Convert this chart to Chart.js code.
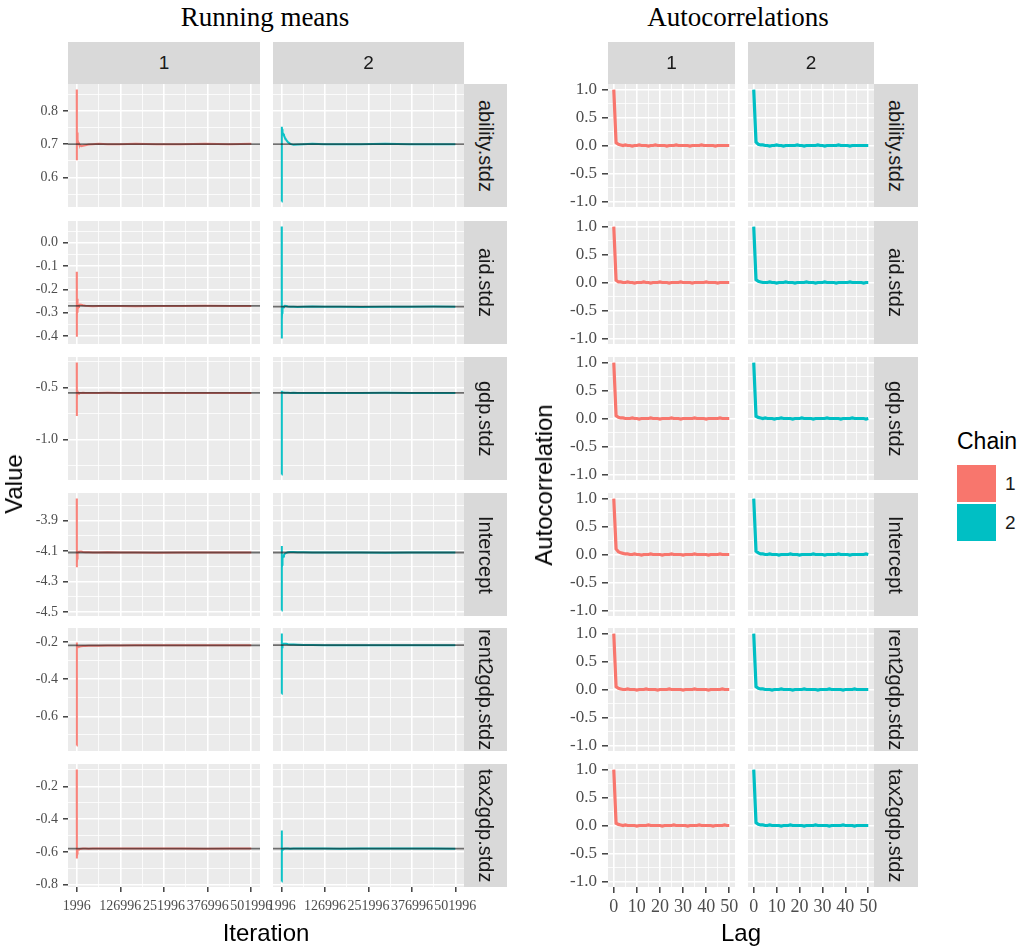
<!DOCTYPE html>
<html>
<head>
<meta charset="utf-8">
<title>Running means and autocorrelations</title>
<script src="https://cdn.jsdelivr.net/npm/chart.js@4.4.1/dist/chart.umd.min.js"></script>
<style>
  html, body { margin: 0; padding: 0; background: #fff; }
  #page { position: relative; width: 1022px; height: 946px; overflow: hidden;
          font-family: "Liberation Sans", Arial, sans-serif; }
  canvas { position: absolute; }
  .strip { position: absolute; background: #d9d9d9; color: #1a1a1a; display: flex;
           align-items: center; justify-content: center; overflow: hidden; white-space: nowrap; }
  .strip.top { font-size: 19px; }
  .strip.side span { writing-mode: vertical-rl; font-size: 20px; line-height: 1; }
  .txt { position: absolute; white-space: nowrap; line-height: 1; transform: translate(-50%, -50%); }
  .title { font-family: "Liberation Serif", "Times New Roman", serif; font-size: 27px; color: #000; }
  .axis-title { font-size: 24px; color: #000; }
  .rot { transform: translate(-50%, -50%) rotate(-90deg); }
  .key { position: absolute; width: 39px; height: 37px; }
  .legend-label { position: absolute; font-size: 19px; color: #1a1a1a; line-height: 1; }
</style>
</head>
<body>
<div id="page"></div>
<script>
// ---- data ---------------------------------------------------------------
const PARAMS = ['ability.stdz', 'aid.stdz', 'gdp.stdz', 'Intercept', 'rent2gdp.stdz', 'tax2gdp.stdz'];
const CHAINS = ['1', '2'];
const CHAIN_COLORS = ['#F8766D', '#00BFC4'];

// iterations at which the running mean is recorded
const ITERATION = [1996, 2200, 2400, 2700, 3100, 3600, 4300, 5200, 6500, 8500,
                   11000, 15000, 20000, 27000, 36000, 48000, 65000, 90000, 125000, 170000,
                   230000, 300000, 370000, 440000, 501996];
const ITERATION_TICKS = ['1996', '126996', '251996', '376996', '501996'];

// running means, chain 1 and chain 2, per parameter
const RM_ABILITY_1 = [0.864, 0.652, 0.780, 0.680, 0.735, 0.705, 0.722, 0.712, 0.705, 0.700,
                      0.697, 0.694, 0.695, 0.697, 0.699, 0.700, 0.701, 0.700, 0.700, 0.701,
                      0.700, 0.700, 0.701, 0.700, 0.701];
const RM_ABILITY_2 = [0.528, 0.752, 0.750, 0.748, 0.745, 0.742, 0.739, 0.735, 0.731, 0.726,
                      0.720, 0.713, 0.706, 0.701, 0.698, 0.699, 0.700, 0.701, 0.700, 0.700,
                      0.700, 0.701, 0.700, 0.700, 0.700];
const RM_AID_1 = [-0.124, -0.403, -0.200, -0.330, -0.240, -0.300, -0.280, -0.285, -0.275, -0.268,
                  -0.265, -0.266, -0.268, -0.270, -0.271, -0.272, -0.271, -0.271, -0.271, -0.272,
                  -0.271, -0.271, -0.270, -0.271, -0.271];
const RM_AID_2 = [0.069, -0.410, -0.150, -0.330, -0.300, -0.292, -0.286, -0.281, -0.277, -0.273,
                  -0.270, -0.271, -0.273, -0.274, -0.274, -0.275, -0.274, -0.273, -0.274, -0.274,
                  -0.275, -0.274, -0.274, -0.273, -0.274];
const RM_GDP_1 = [-0.260, -0.772, -0.450, -0.620, -0.530, -0.570, -0.545, -0.556, -0.549, -0.553,
                  -0.552, -0.551, -0.550, -0.551, -0.552, -0.551, -0.551, -0.550, -0.551, -0.551,
                  -0.552, -0.551, -0.551, -0.551, -0.551];
const RM_GDP_2 = [-1.333, -0.530, -0.600, -0.560, -0.545, -0.538, -0.540, -0.543, -0.546, -0.548,
                  -0.549, -0.550, -0.550, -0.551, -0.550, -0.551, -0.551, -0.552, -0.551, -0.551,
                  -0.551, -0.550, -0.551, -0.551, -0.551];
const RM_INTERCEPT_1 = [-3.757, -4.207, -3.950, -4.180, -4.150, -4.130, -4.120, -4.112, -4.106, -4.104,
                        -4.103, -4.104, -4.106, -4.108, -4.109, -4.110, -4.110, -4.109, -4.110, -4.110,
                        -4.111, -4.110, -4.110, -4.110, -4.110];
const RM_INTERCEPT_2 = [-4.489, -4.067, -4.250, -4.210, -4.190, -4.175, -4.160, -4.148, -4.136, -4.126,
                        -4.118, -4.112, -4.108, -4.106, -4.107, -4.108, -4.109, -4.110, -4.110, -4.110,
                        -4.110, -4.111, -4.110, -4.110, -4.110];
const RM_RENT_1 = [-0.756, -0.203, -0.250, -0.215, -0.228, -0.222, -0.225, -0.227, -0.226, -0.225,
                   -0.224, -0.223, -0.222, -0.222, -0.221, -0.221, -0.220, -0.219, -0.219, -0.218,
                   -0.218, -0.218, -0.218, -0.218, -0.218];
const RM_RENT_2 = [-0.478, -0.155, -0.240, -0.200, -0.228, -0.222, -0.216, -0.212, -0.210, -0.209,
                   -0.209, -0.210, -0.212, -0.213, -0.214, -0.215, -0.216, -0.216, -0.217, -0.217,
                   -0.217, -0.217, -0.217, -0.218, -0.217];
const RM_TAX_1 = [-0.098, -0.641, -0.400, -0.630, -0.610, -0.596, -0.590, -0.587, -0.585, -0.583,
                  -0.582, -0.581, -0.580, -0.580, -0.581, -0.580, -0.580, -0.580, -0.579, -0.580,
                  -0.580, -0.580, -0.581, -0.580, -0.580];
const RM_TAX_2 = [-0.780, -0.470, -0.600, -0.570, -0.588, -0.582, -0.578, -0.580, -0.581, -0.580,
                  -0.579, -0.580, -0.580, -0.581, -0.580, -0.580, -0.579, -0.580, -0.580, -0.581,
                  -0.580, -0.580, -0.580, -0.580, -0.581];

// overall posterior mean of each chain (reference line)
const CHAIN_MEAN_1 = [0.700, -0.271, -0.551, -4.110, -0.218, -0.580];
const CHAIN_MEAN_2 = [0.700, -0.274, -0.551, -4.110, -0.217, -0.580];

// y tick labels of the running-mean rows
const RM_Y_TICKS = [
  ['0.6', '0.7', '0.8'],
  ['-0.4', '-0.3', '-0.2', '-0.1', '0.0'],
  ['-1.0', '-0.5'],
  ['-4.5', '-4.3', '-4.1', '-3.9'],
  ['-0.6', '-0.4', '-0.2'],
  ['-0.8', '-0.6', '-0.4', '-0.2']
];

// autocorrelations by lag
const LAGS = [0, 1, 2, 3, 4, 5, 6, 7, 8, 9, 10, 11, 12, 13, 14, 15, 16, 17, 18, 19, 20, 21, 22, 23, 24,
              25, 26, 27, 28, 29, 30, 31, 32, 33, 34, 35, 36, 37, 38, 39, 40, 41, 42, 43, 44, 45, 46, 47, 48, 49, 50];
const LAG_TICKS = ['0', '10', '20', '30', '40', '50'];
const ACF_Y_TICKS = ['-1.0', '-0.5', '0.0', '0.5', '1.0'];

const ACF_ABILITY_1 = [1.00, 0.05, 0.02, 0.01, 0.00, 0.01, 0.00, 0.00, -0.01, 0.00,
                       0.00, 0.01, 0.00, 0.00, 0.00, -0.01, 0.00, 0.00, 0.01, 0.00,
                       0.00, 0.00, 0.00, -0.01, 0.00, 0.00, 0.00, 0.01, 0.00, 0.00,
                       0.00, 0.00, 0.00, -0.01, 0.00, 0.00, 0.00, 0.00, 0.01, 0.00,
                       0.00, 0.00, 0.00, 0.00, -0.01, 0.00, 0.00, 0.00, 0.00, 0.00, 0.00];
const ACF_ABILITY_2 = [1.00, 0.06, 0.02, 0.01, 0.01, 0.00, 0.00, -0.01, 0.00, 0.00,
                       0.01, 0.00, 0.00, -0.01, 0.00, 0.00, 0.00, 0.00, 0.00, 0.01,
                       0.00, 0.00, -0.01, 0.00, 0.00, 0.00, 0.00, 0.00, 0.01, 0.00,
                       0.00, -0.01, 0.00, 0.00, 0.00, 0.00, 0.00, 0.01, 0.00, 0.00,
                       0.00, 0.00, -0.01, 0.00, 0.00, 0.00, 0.00, 0.00, 0.00, 0.00, 0.00];
const ACF_AID_1 = [1.00, 0.04, 0.01, 0.01, 0.00, 0.00, 0.01, 0.00, 0.00, -0.01,
                   0.00, 0.00, 0.00, 0.01, 0.00, 0.00, -0.01, 0.00, 0.00, 0.00,
                   0.01, 0.00, 0.00, 0.00, -0.01, 0.00, 0.00, 0.00, 0.00, 0.01,
                   0.00, 0.00, 0.00, 0.00, -0.01, 0.00, 0.00, 0.00, 0.00, 0.00,
                   0.01, 0.00, 0.00, 0.00, 0.00, -0.01, 0.00, 0.00, 0.00, 0.00, 0.00];
const ACF_AID_2 = [1.00, 0.05, 0.02, 0.01, 0.00, 0.00, 0.00, 0.01, 0.00, 0.00,
                   -0.01, 0.00, 0.00, 0.00, 0.01, 0.00, 0.00, 0.00, -0.01, 0.00,
                   0.00, 0.00, 0.00, 0.01, 0.00, 0.00, 0.00, -0.01, 0.00, 0.00,
                   0.00, 0.01, 0.00, 0.00, 0.00, 0.00, -0.01, 0.00, 0.00, 0.00,
                   0.00, 0.00, 0.01, 0.00, 0.00, 0.00, 0.00, 0.00, -0.01, 0.00, 0.00];
const ACF_GDP_1 = [1.00, 0.05, 0.02, 0.01, 0.01, 0.00, 0.00, 0.00, 0.01, 0.00,
                   0.00, -0.01, 0.00, 0.00, 0.00, 0.00, 0.01, 0.00, 0.00, 0.00,
                   -0.01, 0.00, 0.00, 0.00, 0.00, 0.01, 0.00, 0.00, 0.00, -0.01,
                   0.00, 0.00, 0.00, 0.00, 0.00, 0.01, 0.00, 0.00, 0.00, 0.00,
                   -0.01, 0.00, 0.00, 0.00, 0.00, 0.00, 0.01, 0.00, 0.00, 0.00, 0.00];
const ACF_GDP_2 = [1.00, 0.04, 0.02, 0.01, 0.00, 0.01, 0.00, 0.00, 0.00, -0.01,
                   0.00, 0.00, 0.01, 0.00, 0.00, 0.00, 0.00, -0.01, 0.00, 0.00,
                   0.00, 0.01, 0.00, 0.00, 0.00, 0.00, -0.01, 0.00, 0.00, 0.00,
                   0.00, 0.00, 0.01, 0.00, 0.00, 0.00, 0.00, 0.00, -0.01, 0.00,
                   0.00, 0.00, 0.00, 0.01, 0.00, 0.00, 0.00, 0.00, 0.00, -0.01, 0.00];
const ACF_INTERCEPT_1 = [1.00, 0.10, 0.05, 0.03, 0.02, 0.01, 0.01, 0.00, 0.00, 0.01,
                         0.00, 0.00, -0.01, 0.00, 0.00, 0.00, 0.01, 0.00, 0.00, 0.00,
                         0.00, -0.01, 0.00, 0.00, 0.00, 0.01, 0.00, 0.00, 0.00, 0.00,
                         -0.01, 0.00, 0.00, 0.00, 0.00, 0.01, 0.00, 0.00, 0.00, 0.00,
                         0.00, -0.01, 0.00, 0.00, 0.00, 0.00, 0.01, 0.00, 0.00, 0.00, 0.00];
const ACF_INTERCEPT_2 = [1.00, 0.06, 0.03, 0.01, 0.01, 0.00, 0.00, 0.01, 0.00, 0.00,
                         0.00, -0.01, 0.00, 0.00, 0.00, 0.00, 0.01, 0.00, 0.00, 0.00,
                         -0.01, 0.00, 0.00, 0.00, 0.00, 0.00, 0.01, 0.00, 0.00, 0.00,
                         0.00, -0.01, 0.00, 0.00, 0.00, 0.00, 0.00, 0.01, 0.00, 0.00,
                         0.00, 0.00, -0.01, 0.00, 0.00, 0.00, 0.00, 0.00, 0.00, 0.01, 0.00];
const ACF_RENT_1 = [1.00, 0.05, 0.02, 0.01, 0.00, 0.00, 0.01, 0.00, 0.00, 0.00,
                    -0.01, 0.00, 0.00, 0.00, 0.01, 0.00, 0.00, 0.00, 0.00, -0.01,
                    0.00, 0.00, 0.00, 0.00, 0.01, 0.00, 0.00, 0.00, 0.00, 0.00,
                    -0.01, 0.00, 0.00, 0.00, 0.00, 0.01, 0.00, 0.00, 0.00, 0.00,
                    0.00, -0.01, 0.00, 0.00, 0.00, 0.00, 0.00, 0.01, 0.00, 0.00, 0.00];
const ACF_RENT_2 = [1.00, 0.05, 0.02, 0.01, 0.01, 0.00, 0.00, 0.00, -0.01, 0.00,
                    0.00, 0.00, 0.01, 0.00, 0.00, 0.00, 0.00, -0.01, 0.00, 0.00,
                    0.00, 0.00, 0.01, 0.00, 0.00, 0.00, 0.00, 0.00, -0.01, 0.00,
                    0.00, 0.00, 0.00, 0.01, 0.00, 0.00, 0.00, 0.00, 0.00, -0.01,
                    0.00, 0.00, 0.00, 0.00, 0.01, 0.00, 0.00, 0.00, 0.00, 0.00, 0.00];
const ACF_TAX_1 = [1.00, 0.04, 0.02, 0.01, 0.00, 0.01, 0.00, 0.00, 0.00, 0.00,
                   -0.01, 0.00, 0.00, 0.00, 0.00, 0.01, 0.00, 0.00, 0.00, 0.00,
                   0.00, -0.01, 0.00, 0.00, 0.00, 0.00, 0.01, 0.00, 0.00, 0.00,
                   0.00, 0.00, -0.01, 0.00, 0.00, 0.00, 0.00, 0.01, 0.00, 0.00,
                   0.00, 0.00, 0.00, -0.01, 0.00, 0.00, 0.00, 0.00, 0.01, 0.00, 0.00];
const ACF_TAX_2 = [1.00, 0.05, 0.02, 0.01, 0.01, 0.00, 0.00, 0.01, 0.00, 0.00,
                   0.00, 0.00, -0.01, 0.00, 0.00, 0.00, 0.01, 0.00, 0.00, 0.00,
                   0.00, 0.00, -0.01, 0.00, 0.00, 0.00, 0.00, 0.01, 0.00, 0.00,
                   0.00, 0.00, 0.00, -0.01, 0.00, 0.00, 0.00, 0.00, 0.00, 0.01,
                   0.00, 0.00, 0.00, 0.00, -0.01, 0.00, 0.00, 0.00, 0.00, 0.00, 0.00];

const RUNNING_MEANS = [
  [RM_ABILITY_1, RM_ABILITY_2], [RM_AID_1, RM_AID_2], [RM_GDP_1, RM_GDP_2],
  [RM_INTERCEPT_1, RM_INTERCEPT_2], [RM_RENT_1, RM_RENT_2], [RM_TAX_1, RM_TAX_2]
];
const CHAIN_MEANS = [CHAIN_MEAN_1, CHAIN_MEAN_2];
const AUTOCORRELATIONS = [
  [ACF_ABILITY_1, ACF_ABILITY_2], [ACF_AID_1, ACF_AID_2], [ACF_GDP_1, ACF_GDP_2],
  [ACF_INTERCEPT_1, ACF_INTERCEPT_2], [ACF_RENT_1, ACF_RENT_2], [ACF_TAX_1, ACF_TAX_2]
];

// ---- layout -------------------------------------------------------------
const ROW_TOP = [84, 221, 357, 493, 628, 764];
const ROW_H = 123;
const STRIP_TOP = 42, STRIP_H = 42;
const LAYOUT = {
  run: { colX: [68, 273], colW: [192, 191], stripX: 464, stripW: 43 },
  acf: { colX: [608, 748], colW: [127, 126], stripX: 874, stripW: 44 }
};
const M = { left: 64, right: 44, top: 24, bottom: 50 };   // canvas margins around a panel
const SERIF = '"Liberation Serif", "Times New Roman", serif';

const page = document.getElementById('page');

// expand a data range by 5 % on each side
function expanded(values) {
  const lo = Math.min(...values), hi = Math.max(...values);
  const pad = (hi - lo) * 0.05;
  return { min: lo - pad, max: hi + pad };
}

// major ticks plus minor breaks half-way between them
function gridTicks(majors, min, max) {
  const step = majors[1] - majors[0];
  const out = majors.map(v => ({ value: v, isMajor: true }));
  for (let i = -1; i < majors.length; i++) {
    const m = i < 0 ? majors[0] - step / 2 : majors[i] + step / 2;
    if (m >= min && m <= max) out.push({ value: m, isMajor: false });
  }
  return out.sort((a, b) => a.value - b.value);
}

function axisOptions(ax, dir, show) {
  const labelOf = new Map(ax.labels.map(s => [parseFloat(s), s]));
  const majors = ax.labels.map(parseFloat);
  return {
    type: 'linear',
    position: dir === 'x' ? 'bottom' : 'left',
    min: ax.min, max: ax.max, bounds: 'data',
    afterBuildTicks(scale) { scale.ticks = gridTicks(majors, ax.min, ax.max); },
    afterFit(scale) { if (dir === 'x') scale.height = M.bottom; else scale.width = M.left; },
    border: { display: false },
    grid: {
      color: '#ffffff',
      lineWidth: c => (c.tick && c.tick.isMajor ? 1.6 : 0.8),
      drawTicks: show,
      tickLength: ax.tickLen,
      tickWidth: 1.4,
      tickColor: c => (c.tick && c.tick.isMajor ? '#333333' : 'rgba(0,0,0,0)')
    },
    ticks: {
      display: show, autoSkip: false, maxRotation: 0, minRotation: 0,
      padding: ax.pad, color: '#4d4d4d',
      font: { family: SERIF, size: ax.font },
      callback: (v, i, ticks) => (ticks[i] && ticks[i].isMajor ? (labelOf.get(v) ?? '') : '')
    }
  };
}

const panelBg = {
  id: 'panelBg',
  beforeDraw(chart) {
    const { ctx, chartArea: a } = chart;
    ctx.save();
    ctx.fillStyle = '#ebebeb';
    ctx.fillRect(a.left, a.top, a.right - a.left, a.bottom - a.top);
    ctx.restore();
  }
};

function addPanel(x, y, w, h, datasets, xAx, yAx, showX, showY) {
  const cv = document.createElement('canvas');
  const cw = w + M.left + M.right, ch = h + M.top + M.bottom;
  cv.width = cw; cv.height = ch;
  cv.style.left = (x - M.left) + 'px';
  cv.style.top = (y - M.top) + 'px';
  cv.style.width = cw + 'px';
  cv.style.height = ch + 'px';
  page.appendChild(cv);
  new Chart(cv, {
    type: 'line',
    data: { datasets },
    options: {
      responsive: false, animation: false, devicePixelRatio: 1,
      layout: { padding: { left: 0, top: M.top, right: M.right, bottom: 0 } },
      plugins: { legend: { display: false }, tooltip: { enabled: false } },
      elements: { point: { radius: 0 }, line: { tension: 0 } },
      scales: { x: axisOptions(xAx, 'x', showX), y: axisOptions(yAx, 'y', showY) }
    },
    plugins: [panelBg]
  });
}

function addDiv(cls, text, style) {
  const d = document.createElement('div');
  d.className = cls;
  if (text !== null) d.textContent = text;
  Object.assign(d.style, style);
  page.appendChild(d);
  return d;
}

// ---- running means ------------------------------------------------------
const iterRange = expanded(ITERATION);
PARAMS.forEach((p, r) => {
  const rowRange = expanded(RUNNING_MEANS[r][0].concat(RUNNING_MEANS[r][1]));
  CHAINS.forEach((c, k) => {
    const L = LAYOUT.run;
    const series = RUNNING_MEANS[r][k];
    const mean = CHAIN_MEANS[k][r];
    const datasets = [
      { data: [{ x: iterRange.min, y: mean }, { x: iterRange.max, y: mean }],
        borderColor: 'rgba(25,25,25,0.6)', borderWidth: 1.8 },
      { data: ITERATION.map((it, i) => ({ x: it, y: series[i] })),
        borderColor: k === 0 ? 'rgba(248,118,109,0.9)' : 'rgba(0,191,196,0.95)', borderWidth: 2 }
    ];
    addPanel(L.colX[k], ROW_TOP[r], L.colW[k], ROW_H, datasets,
      { labels: ITERATION_TICKS, min: iterRange.min, max: iterRange.max, tickLen: 5, pad: 6, font: 14 },
      { labels: RM_Y_TICKS[r], min: rowRange.min, max: rowRange.max, tickLen: 5, pad: 5, font: 14 },
      r === PARAMS.length - 1, k === 0);
  });
});

// ---- autocorrelations ---------------------------------------------------
PARAMS.forEach((p, r) => {
  CHAINS.forEach((c, k) => {
    const L = LAYOUT.acf;
    const series = AUTOCORRELATIONS[r][k];
    const datasets = [
      { data: LAGS.map((lag, i) => ({ x: lag, y: series[i] })),
        borderColor: CHAIN_COLORS[k], borderWidth: 3.2 }
    ];
    addPanel(L.colX[k], ROW_TOP[r], L.colW[k], ROW_H, datasets,
      { labels: LAG_TICKS, min: -2.5, max: 52.5, tickLen: 6, pad: 3, font: 18 },
      { labels: ACF_Y_TICKS, min: -1.1, max: 1.1, tickLen: 6, pad: 5, font: 17 },
      r === PARAMS.length - 1, k === 0);
  });
});

// ---- facet strips -------------------------------------------------------
Object.values(LAYOUT).forEach(L => {
  CHAINS.forEach((c, k) => {
    addDiv('strip top', c, { left: L.colX[k] + 'px', top: STRIP_TOP + 'px',
      width: L.colW[k] + 'px', height: STRIP_H + 'px' });
  });
  PARAMS.forEach((p, r) => {
    const s = addDiv('strip side', null, { left: L.stripX + 'px', top: ROW_TOP[r] + 'px',
      width: L.stripW + 'px', height: ROW_H + 'px' });
    const span = document.createElement('span');
    span.textContent = p;
    s.appendChild(span);
  });
});

// ---- titles and axis titles ---------------------------------------------
addDiv('txt title', 'Running means', { left: '265px', top: '17px' });
addDiv('txt title', 'Autocorrelations', { left: '738px', top: '17px' });
addDiv('txt axis-title', 'Iteration', { left: '266px', top: '933px' });
addDiv('txt axis-title', 'Lag', { left: '741px', top: '933px' });
addDiv('txt axis-title rot', 'Value', { left: '14px', top: '484px' });
addDiv('txt axis-title rot', 'Autocorrelation', { left: '544px', top: '485px' });

// ---- legend -------------------------------------------------------------
addDiv('txt axis-title', 'Chain', { left: '957px', top: '430px', transform: 'none', fontSize: '23px' });
CHAINS.forEach((c, k) => {
  addDiv('key', null, { left: '957px', top: (465 + k * 39) + 'px', background: CHAIN_COLORS[k] });
  addDiv('legend-label', c, { left: '1005px', top: (474 + k * 39) + 'px' });
});
</script>
</body>
</html>
